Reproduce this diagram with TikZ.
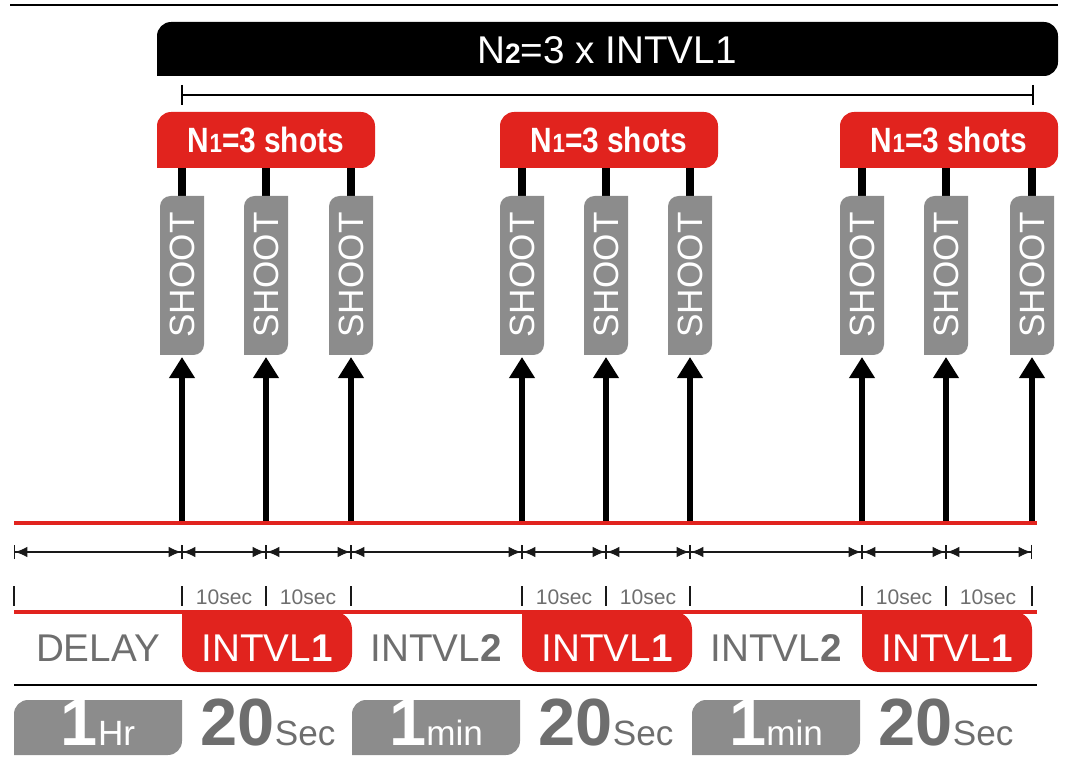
\documentclass[tikz,border=0pt]{standalone}
\usepackage{fontspec}
\setmainfont{Liberation Sans}
\usetikzlibrary{arrows.meta}
\definecolor{shotred}{RGB}{225,35,30}
\definecolor{shotgray}{RGB}{140,140,140}
\definecolor{txtgray}{RGB}{110,110,110}
\tikzset{
  redbox/.style={fill=shotred,rounded corners=6pt},
  graybox/.style={fill=shotgray,rounded corners=5pt},
  dimline/.style={{Bar[width=8pt]Latex[length=7pt,width=6pt]}-{Latex[length=7pt,width=6pt]Bar[width=8pt]},semithick,gray!20!black}
}
\begin{document}
\begin{tikzpicture}[x=0.02cm,y=-0.02cm]
\useasboundingbox (0,0) rectangle (1065,773);
% top part
\draw[line width=1.2pt] (10,5) -- (1058,5);
\fill[rounded corners=8pt] (157,76) -- (157,22) -- (1058,22) -- (1058,76) [sharp corners] -- cycle;
\node[white,font=\fontsize{22}{22}\selectfont] (n2) at (607,50) {N{\bfseries\fontsize{16}{16}\selectfont 2}=3 x INTVL1};
\draw[thick] (182,85) -- (182,105) (182,95) -- (1033,95) (1033,85) -- (1033,105);
\foreach \bx in {157,500,840} {
  \fill[shotred,rounded corners=8pt] (\bx,168) -- (\bx,112) -- (\bx+218,112) -- (\bx+218,168) [sharp corners] -- cycle;
  \node[white,font=\bfseries\fontsize{20}{20}\selectfont,xscale=0.85] (n1-\bx) at (\bx+109,140) {N{\fontsize{15}{15}\selectfont 1}=3 shots};
}
% shots
\foreach \sx [count=\i] in {182,266,351,522,606,690,862,946,1032} {
  \draw[line width=4pt] (\sx,168) -- (\sx,196);
  \fill[shotgray,rounded corners=6pt] (\sx-22,355) -- (\sx-22,196) [sharp corners] -- (\sx+22,196) [rounded corners=6pt] -- (\sx+22,355) [sharp corners] -- cycle;
  \node[white,rotate=90,font=\fontsize{20}{20}\selectfont] (s\i) at (\sx,275) {SHOOT};
  \coordinate (b\i) at (\sx,523);
  \draw[line width=3.5pt,-{Triangle[length=12pt,width=14pt]}] (b\i) -- (\sx,357);
}
% time line
\draw[shotred,line width=2pt] (14,523) -- (1037,523);
\draw[shotred,line width=2pt] (14,612) -- (1037,612);
\foreach \xa/\xb in {14/182,182/266,266/351,351/522,522/606,606/690,690/862,862/946,946/1032}
  \draw[dimline] (\xa,552) -- (\xb,552);
\foreach \tx in {14,182,266,351,522,606,690,862,946,1032}
  \draw[gray!20!black,semithick] (\tx,586) -- (\tx,606);
\foreach \lx in {224,308,564,648,904,988}
  \node[txtgray,font=\fontsize{12}{12}\selectfont] at (\lx,597) {10sec};
% intervals
\foreach \ix in {182,522,862} {
  \fill[shotred,rounded corners=10pt] (\ix,612) -- (\ix,672) -- (\ix+170,672) -- (\ix+170,612) [sharp corners] -- cycle;
  \node[white,font=\fontsize{22}{22}\selectfont] at (\ix+85,648) {INTVL\textbf{1}};
}
\node[txtgray,font=\fontsize{22}{22}\selectfont] (delay) at (98,648) {DELAY};
\node[txtgray,font=\fontsize{22}{22}\selectfont] (i2a) at (436,648) {INTVL\textbf{2}};
\node[txtgray,font=\fontsize{22}{22}\selectfont] (i2b) at (776,648) {INTVL\textbf{2}};
\draw[line width=1pt] (14,685) -- (1037,685);
% values
\foreach \vx/\val in {14/Hr,352/min,692/min} {
  \fill[shotgray,rounded corners=8pt] (\vx,755) -- (\vx,700) [sharp corners] -- (\vx+168,700) [rounded corners=8pt] -- (\vx+168,755) [sharp corners] -- cycle;
  \node[white,anchor=base,font=\fontsize{20}{20}\selectfont] at (\vx+84,745) {{\bfseries\fontsize{38}{38}\selectfont 1}\val};
}
\foreach \ex in {268,606,946}
  \node[txtgray,anchor=base,font=\fontsize{20}{20}\selectfont] at (\ex,745) {{\bfseries\fontsize{38}{38}\selectfont 20}Sec};
\end{tikzpicture}
\end{document}
